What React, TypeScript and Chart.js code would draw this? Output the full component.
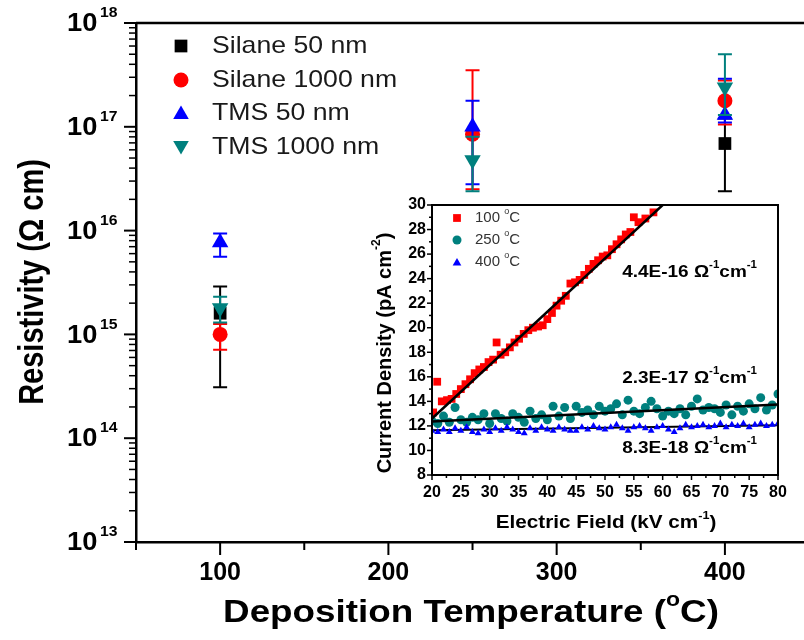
import React, { useEffect, useRef } from 'react';
import { Chart, registerables } from 'chart.js';
Chart.register(...registerables);

// ---------- Main chart data ----------
const temps = [100, 250, 400];
const silane50 = [1.6e15, null, 6.9e16];
const silane50Lo = [3.1e14, null, 2.4e16];
const silane50Hi = [2.9e15, null, 1.2e17];
const silane1000 = [1.0e15, 8.5e16, 1.78e17];
const silane1000Lo = [7.1e14, 2.5e16, 1.05e17];
const silane1000Hi = [1.26e15, 3.5e17, 2.8e17];
const tms50 = [7.7e15, 1.0e17, 1.3e17];
const tms50Lo = [5.6e15, 2.8e16, 1.1e17];
const tms50Hi = [9.4e15, 1.78e17, 2.9e17];
const tms1000 = [1.8e15, 4.8e16, 2.4e17];
const tms1000Lo = [1.3e15, 2.4e16, 1.3e17];
const tms1000Hi = [2.3e15, 8.0e16, 5.0e17];
const seriesNames = ['Silane 50 nm', 'Silane 1000 nm', 'TMS 50 nm', 'TMS 1000 nm'];
const xTickLabels = ['100', '200', '300', '400'];
const yExponents = [13, 14, 15, 16, 17, 18];

// ---------- Inset data ----------
const field100 = [20.2, 20.9, 21.7, 22.6, 23.4, 24.2, 25.0, 25.8, 26.6, 27.4, 28.2, 29.0, 29.8, 30.6, 31.2, 31.9, 32.7, 33.5, 34.3, 35.1, 35.9, 36.7, 37.5, 38.4, 39.2, 40.0, 40.8, 41.6, 42.4, 43.2, 44.0, 44.8, 45.6, 46.4, 47.2, 48.0, 48.8, 49.6, 50.4, 51.2, 52.0, 52.8, 53.6, 54.4, 55.0, 55.8, 57.0, 58.4];
const current100 = [13.1, 15.6, 14.0, 14.1, 14.2, 14.6, 15.0, 15.4, 15.8, 16.3, 16.6, 16.8, 17.2, 17.4, 18.8, 17.8, 18.0, 18.4, 18.8, 19.1, 19.5, 19.8, 20.0, 20.1, 20.2, 20.7, 21.2, 21.8, 22.2, 22.6, 23.6, 23.7, 23.9, 24.3, 24.8, 25.2, 25.5, 25.8, 25.9, 26.4, 26.8, 27.2, 27.6, 27.8, 29.0, 28.6, 28.9, 29.4];
const field250 = [20, 21, 22, 23, 24, 25, 26, 27, 28, 29, 30, 31, 32, 33, 34, 35, 36, 37, 38, 39, 40, 41, 42, 43, 44, 45, 46, 47, 48, 49, 50, 51, 52, 53, 54, 55, 56, 57, 58, 59, 60, 61, 62, 63, 64, 65, 66, 67, 68, 69, 70, 71, 72, 73, 74, 75, 76, 77, 78, 79, 80];
const current250 = [12.4, 12.2, 12.8, 12.3, 13.5, 12.5, 12.3, 12.7, 12.5, 13.0, 12.2, 13.0, 12.6, 12.4, 13.0, 12.7, 12.3, 13.2, 12.6, 12.9, 12.5, 13.6, 12.8, 13.5, 12.6, 13.6, 13.1, 13.3, 12.9, 13.6, 13.2, 13.4, 13.8, 12.9, 14.1, 13.2, 13.0, 13.5, 14.0, 13.4, 12.8, 13.2, 13.0, 13.4, 12.9, 13.6, 14.2, 13.3, 13.5, 13.4, 13.1, 13.7, 12.9, 13.6, 13.2, 13.8, 13.4, 14.3, 13.3, 13.7, 14.6];
const field400 = [20, 21, 22, 23, 24, 25, 26, 27, 28, 29, 30, 31, 32, 33, 34, 35, 36, 37, 38, 39, 40, 41, 42, 43, 44, 45, 46, 47, 48, 49, 50, 51, 52, 53, 54, 55, 56, 57, 58, 59, 60, 61, 62, 63, 64, 65, 66, 67, 68, 69, 70, 71, 72, 73, 74, 75, 76, 77, 78, 79, 80];
const current400 = [11.6, 11.5, 11.7, 11.5, 11.8, 11.6, 11.9, 11.5, 11.4, 11.7, 11.5, 11.8, 11.6, 11.9, 11.7, 11.5, 11.4, 11.8, 11.6, 11.9, 11.7, 11.6, 11.9, 11.7, 11.6, 11.6, 11.9, 11.7, 12.0, 11.8, 11.7, 11.9, 12.1, 11.8, 11.6, 11.9, 12.0, 11.8, 11.6, 11.9, 12.0, 11.7, 11.5, 11.8, 12.1, 11.9, 12.0, 12.1, 11.9, 12.0, 12.2, 11.9, 12.1, 12.0, 12.2, 11.9, 12.1, 12.2, 12.0, 12.1, 12.2];
const fit100X = [20, 60];
const fit100Y = [12.6, 30.0];
const fit250X = [20, 80];
const fit250Y = [12.35, 13.75];
const fit400X = [20, 80];
const fit400Y = [11.65, 12.05];
const insetXTicks = [20, 25, 30, 35, 40, 45, 50, 55, 60, 65, 70, 75, 80];
const insetYTicks = [8, 10, 12, 14, 16, 18, 20, 22, 24, 26, 28, 30];
const insetLegend = ['100 ', '250 ', '400 '];
const conductivities = ['4.4E-16', '2.3E-17', '8.3E-18'];

const FONT = '"Liberation Sans", Arial, Helvetica, sans-serif';
const RED = '#ff0000';
const BLUE = '#0000ff';
const TEAL = '#00807e';
const BLACK = '#000000';

type Part = { t: string; sup?: boolean };

function drawRich(ctx: CanvasRenderingContext2D, parts: Part[], x: number, y: number, size: number, bold: boolean, align: 'left' | 'center' | 'right', color: string, sx = 1, sy = 1) {
  const f = (s: number) => `${bold ? 'bold ' : ''}${s}px ${FONT}`;
  const supSize = Math.round(size * 0.62);
  let w = 0;
  for (const p of parts) {
    ctx.font = f(p.sup ? supSize : size);
    w += ctx.measureText(p.t).width;
  }
  const sw = w * sx;
  const x0 = align === 'left' ? x : align === 'center' ? x - sw / 2 : x - sw;
  ctx.save();
  ctx.translate(x0, y);
  ctx.scale(sx, sy);
  ctx.textBaseline = 'middle';
  ctx.textAlign = 'left';
  ctx.fillStyle = color;
  let cx = 0;
  for (const p of parts) {
    ctx.font = f(p.sup ? supSize : size);
    ctx.fillText(p.t, cx, p.sup ? -size * 0.4 : 0);
    cx += ctx.measureText(p.t).width;
  }
  ctx.restore();
}

function drawMarker(ctx: CanvasRenderingContext2D, style: string, x: number, y: number, r: number, color: string) {
  ctx.save();
  ctx.fillStyle = color;
  ctx.beginPath();
  if (style === 'rect') {
    const s = r * Math.SQRT1_2;
    ctx.rect(x - s, y - s, 2 * s, 2 * s);
  } else if (style === 'circle') {
    ctx.arc(x, y, r, 0, Math.PI * 2);
  } else {
    const dir = style === 'down' ? -1 : 1;
    for (let k = 0; k < 3; k++) {
      const a = (k * 2 * Math.PI) / 3;
      const px = x + Math.sin(a) * r;
      const py = y - dir * Math.cos(a) * r;
      if (k === 0) ctx.moveTo(px, py); else ctx.lineTo(px, py);
    }
    ctx.closePath();
  }
  ctx.fill();
  ctx.restore();
}

function pts(xs: number[], ys: (number | null)[]) {
  const out: { x: number; y: number }[] = [];
  xs.forEach((x, i) => { const y = ys[i]; if (y != null) out.push({ x, y }); });
  return out;
}
function bars(xs: number[], ys: (number | null)[], lo: (number | null)[], hi: (number | null)[]) {
  const out: { x: number; lo: number; hi: number }[] = [];
  xs.forEach((x, i) => { if (ys[i] != null) out.push({ x, lo: lo[i] as number, hi: hi[i] as number }); });
  return out;
}

const errorBarPlugin = {
  id: 'errbars',
  beforeDatasetDraw(chart: any, args: any) {
    const ds = chart.data.datasets[args.index];
    if (!ds.errBars) return;
    const ctx = chart.ctx;
    const xs = chart.scales.x, ys = chart.scales.y;
    ctx.save();
    ctx.strokeStyle = ds.backgroundColor;
    ctx.lineWidth = 2;
    for (const b of ds.errBars) {
      const px = xs.getPixelForValue(b.x);
      const yl = ys.getPixelForValue(b.lo);
      const yh = ys.getPixelForValue(b.hi);
      ctx.beginPath();
      ctx.moveTo(px, yl); ctx.lineTo(px, yh);
      ctx.moveTo(px - 7, yl); ctx.lineTo(px + 7, yl);
      ctx.moveTo(px - 7, yh); ctx.lineTo(px + 7, yh);
      ctx.stroke();
    }
    ctx.restore();
  },
};

const mainDecor = {
  id: 'mainDecor',
  afterDraw(chart: any) {
    const ctx: CanvasRenderingContext2D = chart.ctx;
    const xs = chart.scales.x, ys = chart.scales.y;
    const a = chart.chartArea;
    ctx.save();
    ctx.strokeStyle = '#000';
    ctx.lineWidth = 2.5;
    ctx.beginPath();
    ctx.moveTo(a.left, a.top); ctx.lineTo(a.right, a.top);
    ctx.stroke();
    // y ticks and labels
    yExponents.forEach((n) => {
      const py = ys.getPixelForValue(Math.pow(10, n));
      ctx.lineWidth = 2;
      ctx.beginPath(); ctx.moveTo(a.left - 12, py); ctx.lineTo(a.left, py); ctx.stroke();
      drawRich(ctx, [{ t: '10' }], a.left - 69, py + 1, 26, true, 'left', '#000', 1.05);
      drawRich(ctx, [{ t: String(n) }], a.left - 36, py - 10, 15, true, 'left', '#000', 1.05);
      if (n < 18) {
        ctx.lineWidth = 1.5;
        for (let m = 2; m <= 9; m++) {
          const pm = ys.getPixelForValue(m * Math.pow(10, n));
          ctx.beginPath(); ctx.moveTo(a.left - 7, pm); ctx.lineTo(a.left, pm); ctx.stroke();
        }
      }
    });
    // x ticks
    ctx.lineWidth = 2;
    [50, 150, 250, 350].forEach((v) => {
      const px = xs.getPixelForValue(v);
      ctx.beginPath(); ctx.moveTo(px, a.bottom); ctx.lineTo(px, a.bottom + 8); ctx.stroke();
    });
    xTickLabels.forEach((lab) => {
      const px = xs.getPixelForValue(Number(lab));
      ctx.beginPath(); ctx.moveTo(px, a.bottom); ctx.lineTo(px, a.bottom + 13); ctx.stroke();
      drawRich(ctx, [{ t: lab }], px, a.bottom + 31, 25, true, 'center', '#000');
    });
    // x title
    drawRich(ctx, [{ t: 'Deposition Temperature (' }, { t: 'o', sup: true }, { t: 'C)' }], 471, 613, 32, true, 'center', '#000', 1.15);
    // y title
    ctx.save();
    ctx.translate(34, 282);
    ctx.rotate(-Math.PI / 2);
    drawRich(ctx, [{ t: 'Resistivity (Ω cm)' }], 0, 0, 29, true, 'center', '#000', 1, 1.18);
    ctx.restore();
    // legend
    const styles = ['rect', 'circle', 'up', 'down'];
    const colors = [BLACK, RED, BLUE, TEAL];
    const radii = [9, 7.5, 9, 9];
    const rowsY = [46, 80, 113, 147];
    seriesNames.forEach((name, i) => {
      drawMarker(ctx, styles[i], 181, rowsY[i] + (styles[i] === 'up' ? 1.5 : styles[i] === 'down' ? -1.5 : 0), radii[i], colors[i]);
      drawRich(ctx, [{ t: name }], 212, rowsY[i], 24, false, 'left', '#1a1a1a', 1.11);
    });
    ctx.restore();
  },
};

// inset placement
const IX = 350, IY = 195, IW = 445, IH = 345;

const insetDecor = {
  id: 'insetDecor',
  afterDraw(chart: any) {
    const ctx: CanvasRenderingContext2D = chart.ctx;
    const xs = chart.scales.x, ys = chart.scales.y;
    const a = chart.chartArea;
    ctx.save();
    ctx.strokeStyle = '#000';
    ctx.lineWidth = 2;
    ctx.strokeRect(a.left, a.top, a.right - a.left, a.bottom - a.top);
    ctx.lineWidth = 1.5;
    for (let v = 9; v <= 29; v += 2) {
      const py = ys.getPixelForValue(v);
      ctx.beginPath(); ctx.moveTo(a.left - 3, py); ctx.lineTo(a.left, py); ctx.stroke();
    }
    insetYTicks.forEach((v) => {
      const py = ys.getPixelForValue(v);
      ctx.beginPath(); ctx.moveTo(a.left - 5, py); ctx.lineTo(a.left, py); ctx.stroke();
      drawRich(ctx, [{ t: String(v) }], a.left - 6, py, 16, true, 'right', '#000');
    });
    for (let v = 22.5; v < 80; v += 5) {
      const px = xs.getPixelForValue(v);
      ctx.beginPath(); ctx.moveTo(px, a.bottom); ctx.lineTo(px, a.bottom + 3); ctx.stroke();
    }
    insetXTicks.forEach((v) => {
      const px = xs.getPixelForValue(v);
      ctx.beginPath(); ctx.moveTo(px, a.bottom); ctx.lineTo(px, a.bottom + 5); ctx.stroke();
      drawRich(ctx, [{ t: String(v) }], px, a.bottom + 18, 16, true, 'center', '#000');
    });
    // titles
    drawRich(ctx, [{ t: 'Electric Field (kV cm' }, { t: '-1', sup: true }, { t: ')' }], 606 - IX, 523 - IY, 18, true, 'center', '#000', 1.15);
    ctx.save();
    ctx.translate(385 - IX, 353 - IY);
    ctx.rotate(-Math.PI / 2);
    drawRich(ctx, [{ t: 'Current Density (pA cm' }, { t: '-2', sup: true }, { t: ')' }], 0, 0, 20, true, 'center', '#000', 1, 1.0);
    ctx.restore();
    // legend
    const styles = ['rect', 'circle', 'up'];
    const colors = [RED, TEAL, BLUE];
    const radii = [5.5, 4.5, 5];
    const rowsY = [218, 240, 262];
    insetLegend.forEach((lab, i) => {
      drawMarker(ctx, styles[i], 457 - IX, rowsY[i] - IY + (i === 2 ? 1 : 0), radii[i], colors[i]);
      drawRich(ctx, [{ t: lab }, { t: 'o', sup: true }, { t: 'C' }], 475 - IX, rowsY[i] - IY, 15, false, 'left', '#333');
    });
    // conductivity annotations
    const annY = [272, 378, 448];
    conductivities.forEach((c, i) => {
      drawRich(ctx, [{ t: c + ' Ω' }, { t: '-1', sup: true }, { t: 'cm' }, { t: '-1', sup: true }], 757 - IX, annY[i] - IY, 16.5, true, 'right', '#000', 1.15);
    });
    ctx.restore();
  },
};

export default function App() {
  const mainRef = useRef<HTMLCanvasElement>(null);
  const insetRef = useRef<HTMLCanvasElement>(null);

  useEffect(() => {
    const main = new Chart(mainRef.current as HTMLCanvasElement, {
      type: 'scatter',
      data: {
        datasets: [
          { label: seriesNames[0], data: pts(temps, silane50), errBars: bars(temps, silane50, silane50Lo, silane50Hi), pointStyle: 'rect', pointRadius: 9, backgroundColor: BLACK, borderColor: BLACK, borderWidth: 0, order: 4 } as any,
          { label: seriesNames[1], data: pts(temps, silane1000), errBars: bars(temps, silane1000, silane1000Lo, silane1000Hi), pointStyle: 'circle', pointRadius: 7.5, backgroundColor: RED, borderColor: RED, borderWidth: 0, order: 3 } as any,
          { label: seriesNames[2], data: pts(temps, tms50), errBars: bars(temps, tms50, tms50Lo, tms50Hi), pointStyle: 'triangle', pointRadius: 9.5, backgroundColor: BLUE, borderColor: BLUE, borderWidth: 0, order: 2 } as any,
          { label: seriesNames[3], data: pts(temps, tms1000), errBars: bars(temps, tms1000, tms1000Lo, tms1000Hi), pointStyle: 'triangle', rotation: 180, pointRadius: 9.5, backgroundColor: TEAL, borderColor: TEAL, borderWidth: 0, order: 1 } as any,
        ],
      },
      options: {
        animation: false,
        responsive: false,
        maintainAspectRatio: false,
        layout: { autoPadding: false, padding: { top: 23, right: 0, left: 0, bottom: 0 } },
        plugins: { legend: { display: false }, tooltip: { enabled: false } },
        scales: {
          x: {
            type: 'linear', min: 50, max: 447,
            grid: { display: false, drawTicks: false },
            ticks: { display: false },
            border: { display: true, color: '#000', width: 2.5 },
            afterFit: (s: any) => { s.height = 98; },
          },
          y: {
            type: 'logarithmic', min: 1e13, max: 1e18,
            grid: { display: false, drawTicks: false },
            ticks: { display: false },
            border: { display: true, color: '#000', width: 2.5 },
            afterFit: (s: any) => { s.width = 136; },
          },
        },
      } as any,
      plugins: [errorBarPlugin, mainDecor],
    });

    const inset = new Chart(insetRef.current as HTMLCanvasElement, {
      type: 'scatter',
      data: {
        datasets: [
          { label: 'fit100', data: pts(fit100X, fit100Y), showLine: true, borderColor: BLACK, borderWidth: 2.5, pointRadius: 0, order: 0 } as any,
          { label: 'fit250', data: pts(fit250X, fit250Y), showLine: true, borderColor: BLACK, borderWidth: 2.5, pointRadius: 0, order: 0 } as any,
          { label: 'fit400', data: pts(fit400X, fit400Y), showLine: true, borderColor: BLACK, borderWidth: 2, pointRadius: 0, order: 4 } as any,
          { label: '100 C', data: pts(field100, current100), pointStyle: 'rect', pointRadius: 5.5, backgroundColor: RED, borderColor: RED, borderWidth: 0, order: 1 } as any,
          { label: '250 C', data: pts(field250, current250), pointStyle: 'circle', pointRadius: 4.5, backgroundColor: TEAL, borderColor: TEAL, borderWidth: 0, order: 3 } as any,
          { label: '400 C', data: pts(field400, current400), pointStyle: 'triangle', pointRadius: 4, backgroundColor: BLUE, borderColor: BLUE, borderWidth: 0, order: 2 } as any,
        ],
      },
      options: {
        animation: false,
        responsive: false,
        maintainAspectRatio: false,
        layout: { autoPadding: false, padding: { top: 10, right: 17, left: 0, bottom: 0 } },
        plugins: { legend: { display: false }, tooltip: { enabled: false } },
        scales: {
          x: {
            type: 'linear', min: 20, max: 80,
            grid: { display: false, drawTicks: false },
            border: { display: false },
            ticks: { display: false },
            afterFit: (s: any) => { s.height = 65; },
          },
          y: {
            type: 'linear', min: 8, max: 30,
            grid: { display: false, drawTicks: false },
            border: { display: false },
            ticks: { display: false },
            afterFit: (s: any) => { s.width = 82; },
          },
        },
      } as any,
      plugins: [insetDecor],
    });

    return () => { main.destroy(); inset.destroy(); };
  }, []);

  return (
    <div style={{ position: 'absolute', left: 0, top: 0, width: 804, height: 640, background: '#fff' }}>
      <canvas ref={mainRef} width={804} height={640} style={{ position: 'absolute', left: 0, top: 0 }} />
      <canvas ref={insetRef} width={IW} height={IH} style={{ position: 'absolute', left: IX, top: IY }} />
    </div>
  );
}
